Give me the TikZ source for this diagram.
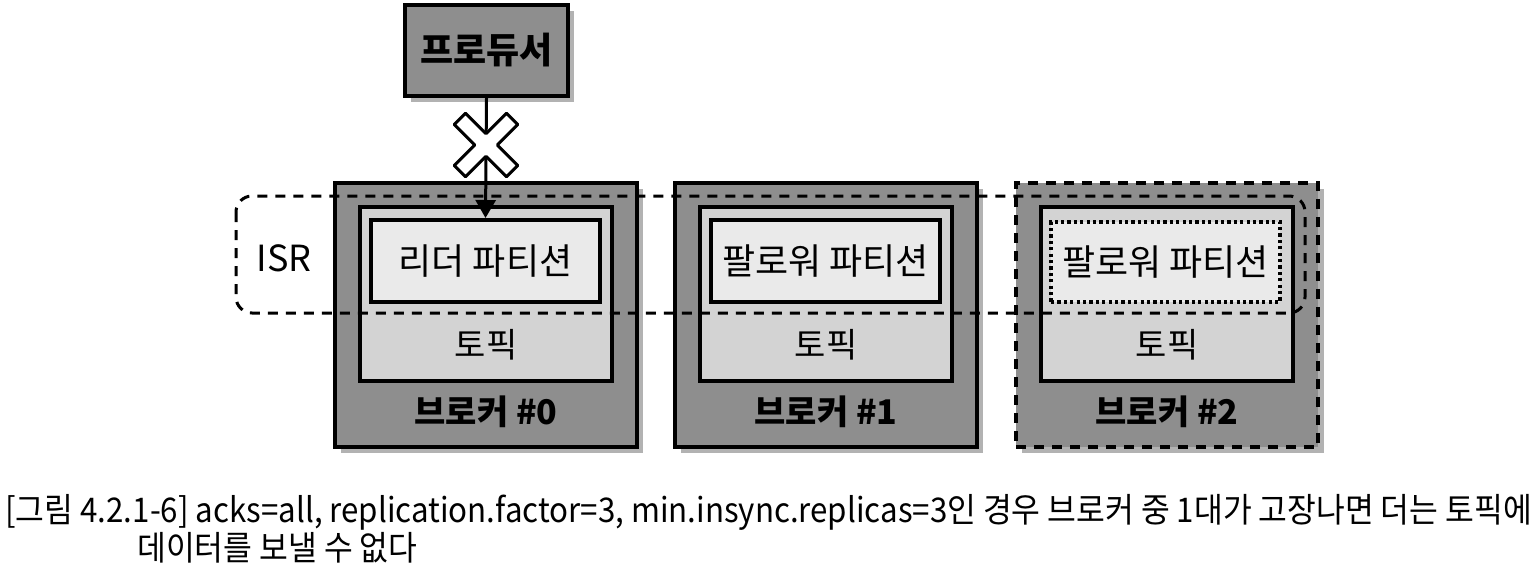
\documentclass[tikz,border=0pt]{standalone}
\usepackage{fontspec}
\setmainfont{Noto Sans CJK KR}
\newfontfamily\capfont{Noto Sans CJK KR}[FakeStretch=0.92]
\usetikzlibrary{shadows,arrows.meta}

\definecolor{boxdark}{HTML}{8E8E8E}
\definecolor{topicfill}{HTML}{D3D3D3}
\definecolor{partfill}{HTML}{EAEAEA}

\tikzset{
  shade box/.style={drop shadow={shadow xshift=3pt,shadow yshift=-3pt,fill=black!55,opacity=0.55}},
  broker/.style={draw=black,line width=1.6pt,fill=boxdark,inner sep=0pt,minimum width=151pt,minimum height=132pt,shade box},
  topicbox/.style={draw=black,line width=1.6pt,fill=topicfill,inner sep=0pt,minimum width=126pt,minimum height=87pt},
  partbox/.style={draw=black,line width=2pt,fill=partfill,inner sep=0pt,minimum width=114.5pt,minimum height=41pt,font=\fontsize{18}{20}\selectfont},
  lbl/.style={inner sep=0pt,font=\fontsize{17}{20}\selectfont},
  blbl/.style={inner sep=0pt,font=\fontsize{17}{20}\selectfont\bfseries},
  isrline/.style={line width=1.5pt,dash pattern=on 5pt off 4pt},
}

\begin{document}
\begin{tikzpicture}[x=0.5pt,y=-0.5pt]
\useasboundingbox (0,0) rectangle (1540,578);

%Shape: Producer
\node[draw=black,line width=1.6pt,fill=boxdark,inner sep=0pt,minimum width=81.5pt,minimum height=45.5pt,shade box,font=\fontsize{18}{20}\selectfont\bfseries] (prod) at (486.5,50.5) {프로듀서};

%Shape: Broker #0
\node[broker] (b0) at (486,315) {};
\node[topicbox] (t0) at (486,294) {};
\node[partbox] (p0) at (485.5,261) {리더 파티션};
% Text Node
\node[lbl] (tl0) at (486,345) {토픽};
\node[blbl] (bl0) at (486,412) {브로커 \#0};

%Shape: Broker #1
\node[broker] (b1) at (826,315) {};
\node[topicbox] (t1) at (826,294) {};
\node[partbox] (p1) at (825.5,261) {팔로워 파티션};
% Text Node
\node[lbl] (tl1) at (826,345) {토픽};
\node[blbl] (bl1) at (826,412) {브로커 \#1};

%Shape: Broker #2 (down)
\node[broker,dash pattern=on 5pt off 4pt] (b2) at (1167,315) {};
\node[topicbox] (t2) at (1167,294) {};
\node[partbox,line width=1.6pt,dash pattern=on 1.6pt off 1.6pt,minimum height=40pt] (p2) at (1165.5,262) {팔로워 파티션};
% Text Node
\node[lbl] (tl2) at (1167,345) {토픽};
\node[blbl] (bl2) at (1167,412) {브로커 \#2};

%Shape: ISR group
\draw[isrline,rounded corners=8pt] (236,196) rectangle (1305,313);
% Text Node
\node[inner sep=0pt,font=\fontsize{18}{20}\selectfont] (isr) at (284,258) {ISR};

%Straight Lines: write to leader
\draw[line width=1.5pt,-{Triangle[width=10pt,length=9pt]}] (prod.south) -- (p0.north);

%Shape: X mark
\begin{scope}[shift={(486,145)},rotate=45]
\draw[line width=1.5pt,fill=white,line join=round]
  (-8,-37) -- (8,-37) -- (8,-8) -- (37,-8) -- (37,8) -- (8,8) -- (8,37)
  -- (-8,37) -- (-8,8) -- (-37,8) -- (-37,-8) -- (-8,-8) -- cycle;
\end{scope}

% Text Node: caption
\node[anchor=west,inner sep=0pt,font=\capfont\fontsize{17}{20}\selectfont] (cap1) at (5,512)
  {[그림 4.2.1-6] acks=all, replication.factor=3, min.insync.replicas=3인 경우 브로커 중 1대가 고장나면 더는 토픽에};
\node[anchor=west,inner sep=0pt,font=\capfont\fontsize{17}{20}\selectfont] (cap2) at (137,548)
  {데이터를 보낼 수 없다};

\end{tikzpicture}
\end{document}
